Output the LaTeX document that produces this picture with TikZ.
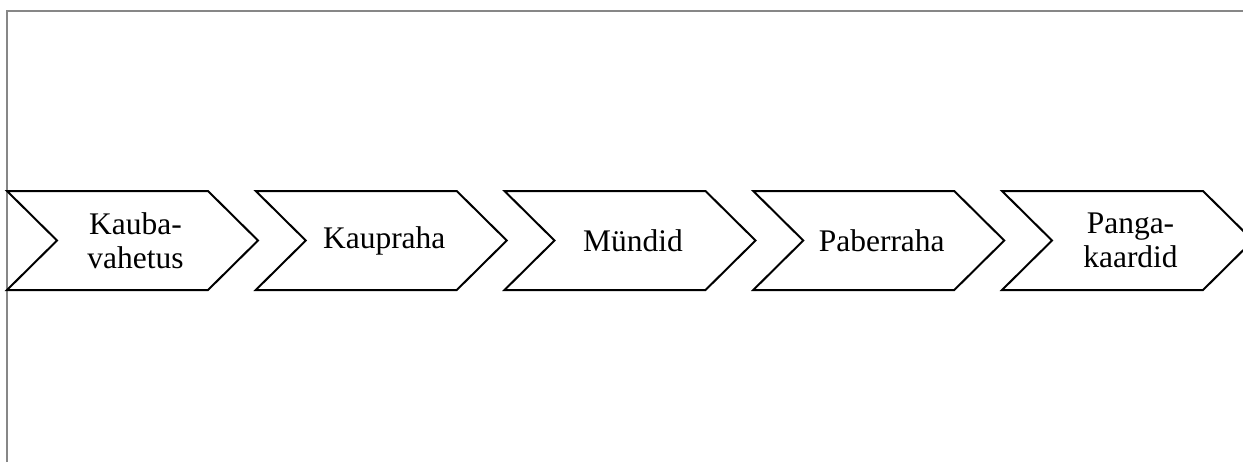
\documentclass[tikz,border=0pt]{standalone}
\usepackage{fontspec}
\setmainfont{Liberation Serif}
\begin{document}
\begin{tikzpicture}[x=0.75pt,y=-0.75pt,
  chev/.style={draw=black,line width=1.5pt,line join=miter,fill=white},
  lbl/.style={align=center,inner sep=0pt,font=\fontsize{23.6}{25.5}\selectfont},
  frame/.style={draw=black!47,line width=1.5pt}]
\useasboundingbox (0,0) rectangle (1243,462);
\clip (0,0) rectangle (1243,462);
\draw[frame] (7,462) -- (7,11) -- (1245,11);
\foreach \i/\t [count=\k from 0] in {a/{Kauba-\\vahetus},b/{Kaupraha},c/{Mündid},d/{Paberraha},e/{Panga-\\kaardid}}{
  \pgfmathsetmacro{\s}{7+248.75*\k}
  \draw[chev] (\s,191) -- ++(201,0) -- ++(50,49.5) -- ++(-50,49.5) -- ++(-201,0) -- ++(50,-49.5) -- cycle;
  \node[lbl] (\i) at (\s+128.5,240.5) {\t};
}
\end{tikzpicture}
\end{document}
